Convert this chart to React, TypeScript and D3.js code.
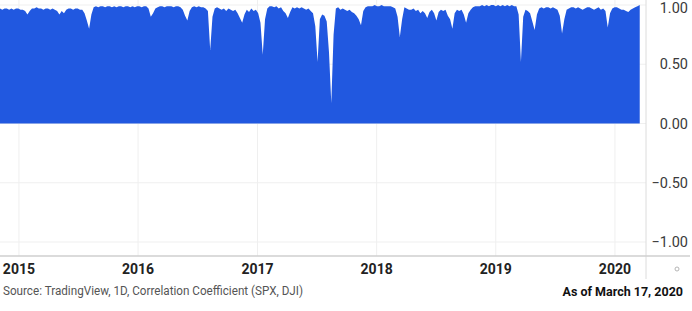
import React from "react";
import * as d3 from "d3";

// 20-day correlation coefficient of SPX vs DJI, one reading per week
const weekStart = new Date(2014, 10, 4);
const correlation: number[] = [
  0.97, 0.96, 0.97, 0.97, 0.96, 0.97, 0.96, 0.97, 0.97, 0.96,
  0.96, 0.95, 0.92, 0.95, 0.97, 0.97, 0.98, 0.97, 0.97, 0.96,
  0.97, 0.97, 0.96, 0.97, 0.96, 0.95, 0.92, 0.95, 0.93, 0.96,
  0.97, 0.97, 0.96, 0.97, 0.97, 0.96, 0.96, 0.93, 0.87, 0.80,
  0.92, 0.98, 0.99, 0.98, 0.99, 0.99, 0.98, 0.99, 0.99, 0.98,
  0.99, 0.98, 0.99, 0.99, 0.98, 0.99, 0.99, 0.98, 0.99, 0.98,
  0.99, 0.99, 0.98, 0.99, 0.99, 0.97, 0.90, 0.93, 0.97, 0.98,
  0.99, 0.99, 0.98, 0.99, 0.99, 0.99, 0.98, 0.99, 0.99, 0.98,
  0.96, 0.91, 0.87, 0.95, 0.98, 0.99, 0.98, 0.99, 0.98, 0.98,
  0.97, 0.95, 0.62, 0.90, 0.97, 0.98, 0.97, 0.96, 0.97, 0.95,
  0.97, 0.96, 0.95, 0.96, 0.93, 0.89, 0.85, 0.92, 0.96, 0.94,
  0.97, 0.95, 0.96, 0.93, 0.85, 0.58, 0.88, 0.97, 0.99, 0.99,
  0.98, 0.99, 0.97, 0.98, 0.95, 0.93, 0.89, 0.94, 0.98, 0.97,
  0.98, 0.97, 0.98, 0.97, 0.96, 0.97, 0.95, 0.93, 0.82, 0.52,
  0.88, 0.92, 0.91, 0.86, 0.60, 0.17, 0.75, 0.97, 0.98, 0.96,
  0.97, 0.96, 0.95, 0.96, 0.94, 0.93, 0.91, 0.88, 0.83, 0.95,
  0.98, 0.99, 0.99, 0.99, 1.0, 0.99, 0.99, 1.0, 0.99, 0.99,
  0.99, 0.99, 0.98, 0.97, 0.90, 0.73, 0.88, 0.98, 0.97, 0.96,
  0.96, 0.97, 0.95, 0.96, 0.93, 0.95, 0.93, 0.89, 0.94, 0.96,
  0.93, 0.87, 0.94, 0.96, 0.95, 0.96, 0.91, 0.88, 0.80, 0.93,
  0.96, 0.95, 0.96, 0.92, 0.85, 0.93, 0.96, 0.98, 0.99, 0.99,
  0.99, 1.0, 0.99, 1.0, 0.99, 1.0, 1.0, 0.99, 1.0, 0.99,
  1.0, 0.99, 1.0, 0.99, 1.0, 0.99, 0.99, 0.92, 0.52, 0.90,
  0.96, 0.95, 0.93, 0.86, 0.79, 0.92, 0.97, 0.98, 0.97, 0.98,
  0.98, 0.97, 0.98, 0.97, 0.96, 0.91, 0.76, 0.88, 0.96, 0.97,
  0.98, 0.98, 0.97, 0.98, 0.97, 0.96, 0.97, 0.98, 0.98, 0.97,
  0.96, 0.97, 0.98, 0.96, 0.97, 0.95, 0.81, 0.93, 0.97, 0.98,
  0.98, 0.97, 0.96, 0.96, 0.95, 0.94, 0.96, 0.97, 0.98, 0.99,
  1.0,
];

const yTicks: number[] = [1, 0.5, 0, -0.5, -1];
const yearTicks: number[] = [2015, 2016, 2017, 2018, 2019, 2020];
const sourceText = "Source: TradingView, 1D, Correlation Coefficient (SPX, DJI)";
const asOfText = "As of March 17, 2020";

const W = 692;
const H = 311;
const plotRight = 646;
const axisY = 256;

export default function App() {
  const dayMs = 24 * 3600 * 1000;
  const data = correlation.map((v, i) => ({
    date: new Date(weekStart.getTime() + i * 7 * dayMs),
    value: v,
  }));

  const x = d3
    .scaleTime()
    .domain([new Date(2014, 10, 4), new Date(2020, 2, 27)])
    .range([0, 643]);
  const y = d3.scaleLinear().domain([-1, 1]).range([242, 5]);

  const area = d3
    .area<{ date: Date; value: number }>()
    .x((d) => x(d.date))
    .y0(y(0))
    .y1((d) => y(d.value));

  const font = "Roboto, 'Noto Sans', sans-serif";

  return (
    <div style={{ position: "absolute", left: 0, top: 0 }}>
      <svg width={W} height={H} style={{ display: "block", background: "#fff" }}>
        {/* grid */}
        {yTicks.map((t) => (
          <line key={"gy" + t} x1={0} x2={plotRight} y1={y(t)} y2={y(t)} stroke="#efefef" strokeWidth={1} />
        ))}
        {yearTicks.map((yr) => {
          const xx = x(new Date(yr, 0, 1));
          return <line key={"gx" + yr} x1={xx} x2={xx} y1={0} y2={axisY} stroke="#efefef" strokeWidth={1} />;
        })}

        <path d={area(data) || ""} fill="#2158E0" />

        {/* axes */}
        <line x1={plotRight} x2={plotRight} y1={0} y2={279} stroke="#dcdcdc" strokeWidth={1} />
        <line x1={0} x2={690} y1={axisY} y2={axisY} stroke="#cfcfcf" strokeWidth={1.5} />

        {yTicks.map((t) => (
          <text
            key={"ty" + t}
            x={688}
            y={Math.max(y(t), 7.5)}
            dy="0.35em"
            textAnchor="end"
            fontFamily={font}
            fontSize={14.5}
            fill="#3a3a3a"
          >
            {d3.format(".2f")(t).replace("-", "\u2212")}
          </text>
        ))}

        {yearTicks.map((yr) => (
          <text
            key={"tx" + yr}
            x={x(new Date(yr, 0, 1))}
            y={269}
            dy="0.35em"
            textAnchor="middle"
            fontFamily={font}
            fontSize={14}
            fontWeight={700}
            fill="#222"
          >
            {yr}
          </text>
        ))}

        <circle cx={677} cy={269} r={2} fill="none" stroke="#b5b5b5" strokeWidth={1} />

        <text x={3} y={291} dy="0.35em" fontFamily={font} fontSize={12} fill="#555" textLength={300} lengthAdjust="spacingAndGlyphs">
          {sourceText}
        </text>
        <text
          x={683}
          y={292}
          dy="0.35em"
          textAnchor="end"
          fontFamily={font}
          fontSize={12.5}
          fontWeight={700}
          fill="#111"
        >
          {asOfText}
        </text>
      </svg>
    </div>
  );
}
